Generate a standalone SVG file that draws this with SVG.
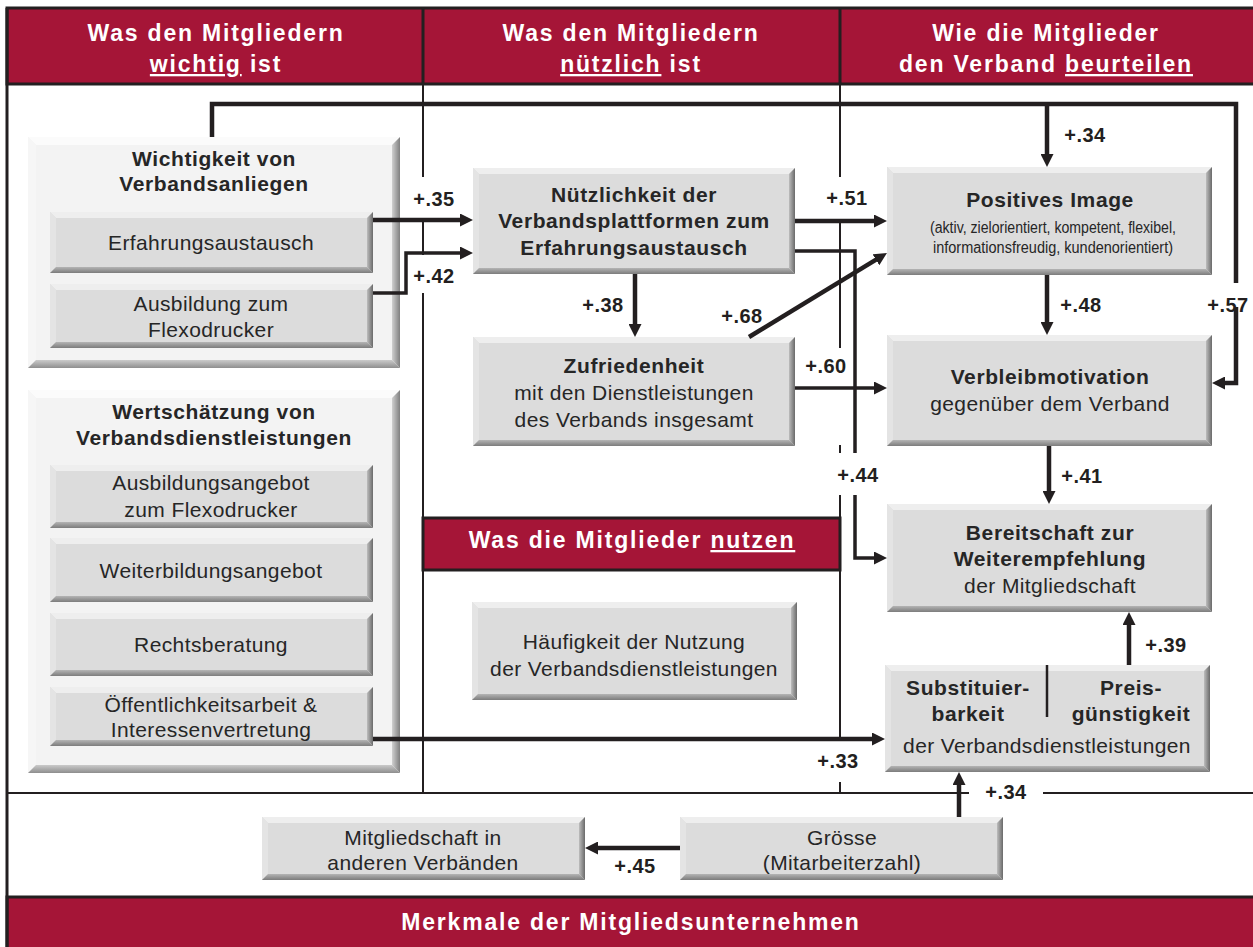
<svg xmlns="http://www.w3.org/2000/svg" width="1253" height="947" viewBox="0 0 1253 947">
<defs>
<style>
.band{fill:#a51537;stroke:#231f20;stroke-width:3}
.hdr{font-family:"Liberation Sans",Arial,sans-serif;font-weight:bold;font-size:23px;letter-spacing:1.8px;fill:#fff;text-anchor:middle}
.ul{text-decoration:underline}
.frame{fill:none;stroke:#231f20;stroke-width:3}
.div{fill:none;stroke:#231f20;stroke-width:2}
.face{fill:#dcdcdc}
.oface{fill:#f3f3f3}
.top{fill:#eeeeee}
.left{fill:#e4e4e4}
.otop{fill:#fbfbfb}
.oleft{fill:#f6f6f6}
.right{fill:url(#gR)}
.bot{fill:url(#gB)}
.oright{fill:url(#goR)}
.obot{fill:url(#goB)}
.t{font-family:"Liberation Sans",Arial,sans-serif;font-size:21px;letter-spacing:0.4px;fill:#262626;text-anchor:middle}
.b{font-weight:bold;letter-spacing:0.6px}
.small{font-size:16px;letter-spacing:0}
.lbl{font-family:"Liberation Sans",Arial,sans-serif;font-size:20px;font-weight:bold;letter-spacing:0.5px;fill:#231f20;text-anchor:middle}
.c{fill:none;stroke:#231f20;stroke-width:4.5}
.cm{fill:none;stroke:#231f20;stroke-width:3.5}
.arr{marker-end:url(#ah)}
</style>
<linearGradient id="gR" x1="0" y1="0" x2="1" y2="0"><stop offset="0" stop-color="#bdbdbd"/><stop offset="1" stop-color="#6a6a6a"/></linearGradient>
<linearGradient id="gB" x1="0" y1="0" x2="0" y2="1"><stop offset="0" stop-color="#b4b4b4"/><stop offset="1" stop-color="#7c7c7c"/></linearGradient>
<linearGradient id="goR" x1="0" y1="0" x2="1" y2="0"><stop offset="0" stop-color="#d0d0d0"/><stop offset="1" stop-color="#808080"/></linearGradient>
<linearGradient id="goB" x1="0" y1="0" x2="0" y2="1"><stop offset="0" stop-color="#cacaca"/><stop offset="1" stop-color="#8e8e8e"/></linearGradient>
<marker id="ah" markerUnits="userSpaceOnUse" markerWidth="13" markerHeight="13" viewBox="0 0 13 13" refX="6" refY="6.5" orient="auto"><path d="M0,0 L13,6.5 L0,13 z" fill="#231f20"/></marker>
</defs>
<rect width="1253" height="947" fill="#fff"/>

<g id="frame">
<rect class="band" x="7" y="8" width="1250" height="76"/>
<rect class="band" x="7" y="897" width="1250" height="52"/>
<rect class="band" x="423" y="518" width="417" height="52"/>
<line class="frame" x1="7" y1="8" x2="7" y2="947"/>
<line class="frame" x1="423" y1="8" x2="423" y2="84"/>
<line class="frame" x1="840" y1="8" x2="840" y2="84"/>
<path class="div" d="M7,793 H969 M1043,793 H1253"/>
<path class="div" d="M423,84 V177 M423,222 V255 M423,293 V518 M423,570 V793"/>
<path class="div" d="M840,84 V177 M840,223 V348 M840,445 V453 M840,495 V518 M840,570 V739 M840,782 V793"/>
<text class="hdr" x="216" y="41">Was den Mitgliedern</text>
<text class="hdr" x="216" y="72"><tspan class="ul">wichtig</tspan> ist</text>
<text class="hdr" x="631" y="41">Was den Mitgliedern</text>
<text class="hdr" x="631" y="72"><tspan class="ul">nützlich</tspan> ist</text>
<text class="hdr" x="1046" y="41">Wie die Mitglieder</text>
<text class="hdr" x="1046" y="72">den Verband <tspan class="ul">beurteilen</tspan></text>
<text class="hdr" x="632" y="548">Was die Mitglieder <tspan class="ul">nutzen</tspan></text>
<text class="hdr" x="631" y="930">Merkmale der Mitgliedsunternehmen</text>
</g>

<g id="wichtigkeit">
<rect class="oface" x="28" y="137" width="372" height="231"/>
<polygon class="otop" points="28,137 400,137 392,145 36,145"/>
<polygon class="oleft" points="28,137 36,145 36,360 28,368"/>
<polygon class="oright" points="400,137 400,368 392,360 392,145"/>
<polygon class="obot" points="28,368 400,368 392,360 36,360"/>
<text class="t b" x="214" y="166">Wichtigkeit von</text>
<text class="t b" x="214" y="191">Verbandsanliegen</text>
</g>
<g id="erfahrungsaustausch">
<rect class="face" x="50" y="212" width="323" height="61"/>
<polygon class="top" points="50,212 373,212 367,218 56,218"/>
<polygon class="left" points="50,212 56,218 56,267 50,273"/>
<polygon class="right" points="373,212 373,273 367,267 367,218"/>
<polygon class="bot" points="50,273 373,273 367,267 56,267"/>
<text class="t" x="211" y="250">Erfahrungsaustausch</text>
</g>
<g id="ausbildung">
<rect class="face" x="50" y="284" width="323" height="64"/>
<polygon class="top" points="50,284 373,284 367,290 56,290"/>
<polygon class="left" points="50,284 56,290 56,342 50,348"/>
<polygon class="right" points="373,284 373,348 367,342 367,290"/>
<polygon class="bot" points="50,348 373,348 367,342 56,342"/>
<text class="t" x="211" y="311">Ausbildung zum</text>
<text class="t" x="211" y="337">Flexodrucker</text>
</g>

<g id="wertschaetzung">
<rect class="oface" x="28" y="390" width="372" height="383"/>
<polygon class="otop" points="28,390 400,390 392,398 36,398"/>
<polygon class="oleft" points="28,390 36,398 36,765 28,773"/>
<polygon class="oright" points="400,390 400,773 392,765 392,398"/>
<polygon class="obot" points="28,773 400,773 392,765 36,765"/>
<text class="t b" x="214" y="419">Wertschätzung von</text>
<text class="t b" x="214" y="445">Verbandsdienstleistungen</text>
</g>
<g id="ausbildungsangebot">
<rect class="face" x="50" y="465" width="323" height="63"/>
<polygon class="top" points="50,465 373,465 367,471 56,471"/>
<polygon class="left" points="50,465 56,471 56,522 50,528"/>
<polygon class="right" points="373,465 373,528 367,522 367,471"/>
<polygon class="bot" points="50,528 373,528 367,522 56,522"/>
<text class="t" x="211" y="490">Ausbildungsangebot</text>
<text class="t" x="211" y="517">zum Flexodrucker</text>
</g>
<g id="weiterbildung">
<rect class="face" x="50" y="538" width="323" height="64"/>
<polygon class="top" points="50,538 373,538 367,544 56,544"/>
<polygon class="left" points="50,538 56,544 56,596 50,602"/>
<polygon class="right" points="373,538 373,602 367,596 367,544"/>
<polygon class="bot" points="50,602 373,602 367,596 56,596"/>
<text class="t" x="211" y="578">Weiterbildungsangebot</text>
</g>
<g id="rechtsberatung">
<rect class="face" x="50" y="613" width="323" height="63"/>
<polygon class="top" points="50,613 373,613 367,619 56,619"/>
<polygon class="left" points="50,613 56,619 56,670 50,676"/>
<polygon class="right" points="373,613 373,676 367,670 367,619"/>
<polygon class="bot" points="50,676 373,676 367,670 56,670"/>
<text class="t" x="211" y="652">Rechtsberatung</text>
</g>
<g id="oeffentlichkeit">
<rect class="face" x="50" y="687" width="323" height="59"/>
<polygon class="top" points="50,687 373,687 367,693 56,693"/>
<polygon class="left" points="50,687 56,693 56,740 50,746"/>
<polygon class="right" points="373,687 373,746 367,740 367,693"/>
<polygon class="bot" points="50,746 373,746 367,740 56,740"/>
<text class="t" x="211" y="712">Öffentlichkeitsarbeit &amp;</text>
<text class="t" x="211" y="737">Interessenvertretung</text>
</g>

<g id="nuetzlichkeit">
<rect class="face" x="473" y="168" width="322" height="106"/>
<polygon class="top" points="473,168 795,168 789,174 479,174"/>
<polygon class="left" points="473,168 479,174 479,268 473,274"/>
<polygon class="right" points="795,168 795,274 789,268 789,174"/>
<polygon class="bot" points="473,274 795,274 789,268 479,268"/>
<text class="t b" x="634" y="202">Nützlichkeit der</text>
<text class="t b" x="634" y="228">Verbandsplattformen zum</text>
<text class="t b" x="634" y="255">Erfahrungsaustausch</text>
</g>
<g id="zufriedenheit">
<rect class="face" x="473" y="337" width="322" height="109"/>
<polygon class="top" points="473,337 795,337 789,343 479,343"/>
<polygon class="left" points="473,337 479,343 479,440 473,446"/>
<polygon class="right" points="795,337 795,446 789,440 789,343"/>
<polygon class="bot" points="473,446 795,446 789,440 479,440"/>
<text class="t b" x="634" y="373">Zufriedenheit</text>
<text class="t" x="634" y="400">mit den Dienstleistungen</text>
<text class="t" x="634" y="427">des Verbands insgesamt</text>
</g>
<g id="haeufigkeit">
<rect class="face" x="472" y="602" width="325" height="98"/>
<polygon class="top" points="472,602 797,602 791,608 478,608"/>
<polygon class="left" points="472,602 478,608 478,694 472,700"/>
<polygon class="right" points="797,602 797,700 791,694 791,608"/>
<polygon class="bot" points="472,700 797,700 791,694 478,694"/>
<text class="t" x="634" y="649">Häufigkeit der Nutzung</text>
<text class="t" x="634" y="676">der Verbandsdienstleistungen</text>
</g>

<g id="image">
<rect class="face" x="887" y="167" width="325" height="108"/>
<polygon class="top" points="887,167 1212,167 1206,173 893,173"/>
<polygon class="left" points="887,167 893,173 893,269 887,275"/>
<polygon class="right" points="1212,167 1212,275 1206,269 1206,173"/>
<polygon class="bot" points="887,275 1212,275 1206,269 893,269"/>
<text class="t b" x="1050" y="207">Positives Image</text>
<text class="t small" x="1053" y="233" textLength="246" lengthAdjust="spacingAndGlyphs">(aktiv, zielorientiert, kompetent, flexibel,</text>
<text class="t small" x="1053" y="253" textLength="240" lengthAdjust="spacingAndGlyphs">informationsfreudig, kundenorientiert)</text>
</g>
<g id="verbleib">
<rect class="face" x="887" y="335" width="325" height="111"/>
<polygon class="top" points="887,335 1212,335 1206,341 893,341"/>
<polygon class="left" points="887,335 893,341 893,440 887,446"/>
<polygon class="right" points="1212,335 1212,446 1206,440 1206,341"/>
<polygon class="bot" points="887,446 1212,446 1206,440 893,440"/>
<text class="t b" x="1050" y="384">Verbleibmotivation</text>
<text class="t" x="1050" y="411">gegenüber dem Verband</text>
</g>
<g id="bereitschaft">
<rect class="face" x="887" y="504" width="325" height="108"/>
<polygon class="top" points="887,504 1212,504 1206,510 893,510"/>
<polygon class="left" points="887,504 893,510 893,606 887,612"/>
<polygon class="right" points="1212,504 1212,612 1206,606 1206,510"/>
<polygon class="bot" points="887,612 1212,612 1206,606 893,606"/>
<text class="t b" x="1050" y="540">Bereitschaft zur</text>
<text class="t b" x="1050" y="566">Weiterempfehlung</text>
<text class="t" x="1050" y="593">der Mitgliedschaft</text>
</g>
<g id="substituierbarkeit">
<rect class="face" x="885" y="665" width="325" height="107"/>
<polygon class="top" points="885,665 1210,665 1204,671 891,671"/>
<polygon class="left" points="885,665 891,671 891,766 885,772"/>
<polygon class="right" points="1210,665 1210,772 1204,766 1204,671"/>
<polygon class="bot" points="885,772 1210,772 1204,766 891,766"/>
<line x1="1047" y1="665" x2="1047" y2="717" stroke="#231f20" stroke-width="2.5"/>
<text class="t b" x="968" y="695">Substituier-</text>
<text class="t b" x="968" y="721">barkeit</text>
<text class="t b" x="1131" y="695">Preis-</text>
<text class="t b" x="1131" y="721">günstigkeit</text>
<text class="t" x="1047" y="753">der Verbandsdienstleistungen</text>
</g>

<g id="mitgliedschaft">
<rect class="face" x="262" y="817" width="323" height="63"/>
<polygon class="top" points="262,817 585,817 579,823 268,823"/>
<polygon class="left" points="262,817 268,823 268,874 262,880"/>
<polygon class="right" points="585,817 585,880 579,874 579,823"/>
<polygon class="bot" points="262,880 585,880 579,874 268,874"/>
<text class="t" x="423" y="845">Mitgliedschaft in</text>
<text class="t" x="423" y="870">anderen Verbänden</text>
</g>
<g id="groesse">
<rect class="face" x="680" y="817" width="323" height="63"/>
<polygon class="top" points="680,817 1003,817 997,823 686,823"/>
<polygon class="left" points="680,817 686,823 686,874 680,880"/>
<polygon class="right" points="1003,817 1003,880 997,874 997,823"/>
<polygon class="bot" points="680,880 1003,880 997,874 686,874"/>
<text class="t" x="842" y="845">Grösse</text>
<text class="t" x="842" y="870">(Mitarbeiterzahl)</text>
</g>

<g id="connectors">
<path class="c" d="M212,137 V104 H1236 V283"/>
<path class="c arr" d="M1236,307 V383 H1219"/>
<path class="c arr" d="M1047,104 V160"/>
<path class="c arr" d="M373,220 H466"/>
<path class="cm arr" d="M373,293 H406 V253 H466"/>
<path class="c arr" d="M795,221 H880"/>
<path class="cm" d="M795,251 H855 V453"/>
<path class="cm arr" d="M855,495 V558 H880"/>
<path class="c arr" d="M635,274 V330"/>
<path class="c arr" d="M749,337 L881,256.6"/>
<path class="cm arr" d="M795,388 H880"/>
<path class="c arr" d="M1047,275 V328"/>
<path class="c arr" d="M1049,446 V497"/>
<path class="c arr" d="M1129,665 V619"/>
<path class="c arr" d="M373,739 H878"/>
<path class="c arr" d="M959,817 V779"/>
<path class="c arr" d="M680,848 H592"/>
</g>

<g id="labels">
<text class="lbl" x="1085" y="142">+.34</text>
<text class="lbl" x="434" y="206">+.35</text>
<text class="lbl" x="434" y="283">+.42</text>
<text class="lbl" x="847" y="205">+.51</text>
<text class="lbl" x="603" y="312">+.38</text>
<text class="lbl" x="742" y="323">+.68</text>
<text class="lbl" x="826" y="373">+.60</text>
<text class="lbl" x="1081" y="312">+.48</text>
<text class="lbl" x="1228" y="312">+.57</text>
<text class="lbl" x="858" y="482">+.44</text>
<text class="lbl" x="1082" y="483">+.41</text>
<text class="lbl" x="1166" y="652">+.39</text>
<text class="lbl" x="838" y="768">+.33</text>
<text class="lbl" x="1006" y="799">+.34</text>
<text class="lbl" x="635" y="873">+.45</text>
</g>
</svg>
